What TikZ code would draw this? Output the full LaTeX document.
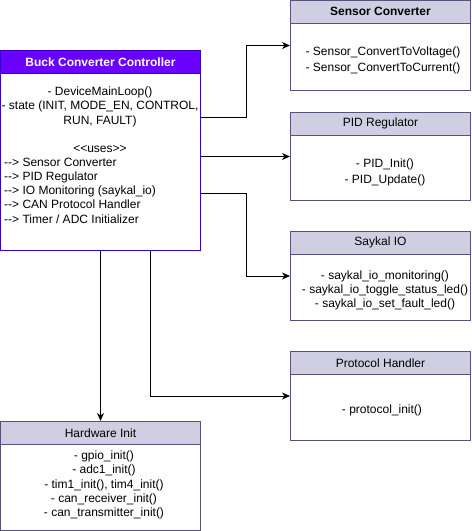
\documentclass[tikz,border=0pt]{standalone}
\usepackage{fontspec}
\newfontfamily\uifont{Liberation Sans}
\usepackage{tikz}
\usetikzlibrary{arrows.meta,positioning,calc}
\usepackage{xcolor}
\definecolor{lav}{RGB}{208,206,226}
\definecolor{lavB}{RGB}{86,81,126}
\definecolor{vio}{RGB}{106,0,255}
\definecolor{vioB}{RGB}{55,0,204}
\tikzset{
  cls/.style={draw=lavB,fill=white,line width=1pt,minimum width=180pt,
    anchor=north west,inner sep=0pt},
  hdr/.style={cls,fill=lav,minimum height=22.5pt,font=\uifont\fontsize{12}{14.3}\selectfont},
  txt/.style={font=\uifont\fontsize{12}{14.3}\selectfont,align=center,inner sep=0pt},
  ar/.style={-{Stealth[length=8pt,width=7pt,inset=2.5pt]},line width=1pt},
}

\begin{document}
\begin{tikzpicture}[x=1pt,y=-1pt]
  \useasboundingbox (0,0) rectangle (472,531);

  % main controller
  \node[cls,draw=vioB,minimum width=200pt,minimum height=200pt] (ctrl) at (0,50) {};
  \node[hdr,draw=vioB,fill=vio,minimum width=200pt,text=white] (ctrlH) at (0,50) {\textbf{Buck Converter Controller}};
  \node[txt] (ctrlT) at (100,120) {- DeviceMainLoop()\\- state (INIT, MODE\_EN, CONTROL,\\RUN, FAULT)\\[14.3pt]<{}<uses>{}>};
  \node[txt,align=left,anchor=west] (ctrlL) at (4,190.5) {-{}-> Sensor Converter\\-{}-> PID Regulator\\-{}-> IO Monitoring (saykal\_io)\\-{}-> CAN Protocol Handler\\-{}-> Timer / ADC Initializer};

  % modules on the right
  \node[cls,minimum height=90pt] (sens) at (290,0) {};
  \node[hdr] (sensH) at (290,0) {\textbf{Sensor Converter}};
  \node[txt] (sensT) at (383,60) {- Sensor\_ConvertToVoltage()\\[1.7pt]- Sensor\_ConvertToCurrent()};

  \node[cls,minimum height=88pt] (pid) at (290,112) {};
  \node[hdr] (pidH) at (290,112) {PID Regulator};
  \node[txt] (pidT) at (385,172) {- PID\_Init()\\[1.7pt]- PID\_Update()};

  \node[cls,minimum height=89pt] (sio) at (290,231) {};
  \node[hdr] (sioH) at (290,231) {Saykal IO};
  \node[txt] (sioT) at (385,290.5) {- saykal\_io\_monitoring()\\- saykal\_io\_toggle\_status\_led()\\- saykal\_io\_set\_fault\_led()};

  \node[cls,minimum height=89pt] (proto) at (290,351) {};
  \node[hdr] (protoH) at (290,351) {Protocol Handler};
  \node[txt] (protoT) at (382,410) {- protocol\_init()};

  % hardware init below
  \node[cls,minimum width=200pt,minimum height=109pt] (hwi) at (0,421) {};
  \node[hdr,minimum width=200pt] (hwiH) at (0,421) {Hardware Init};
  \node[txt] (hwiT) at (104,485) {- gpio\_init()\\- adc1\_init()\\- tim1\_init(), tim4\_init()\\- can\_receiver\_init()\\- can\_transmitter\_init()};

  % connectors
  \draw[ar] ($(ctrl.north east)+(0,67)$) -- ++(45,0) |- (sens.west);
  \draw[ar] (ctrl.east |- pid.west) -- (pid.west);
  \draw[ar] ($(ctrl.north east)+(0,143)$) -- ++(45,0) |- (sio.west);
  \draw[ar] (ctrl.south) -- (hwi.north);
  \draw[ar] ($(ctrl.south)+(50,0)$) |- (proto.west);
\end{tikzpicture}
\end{document}
